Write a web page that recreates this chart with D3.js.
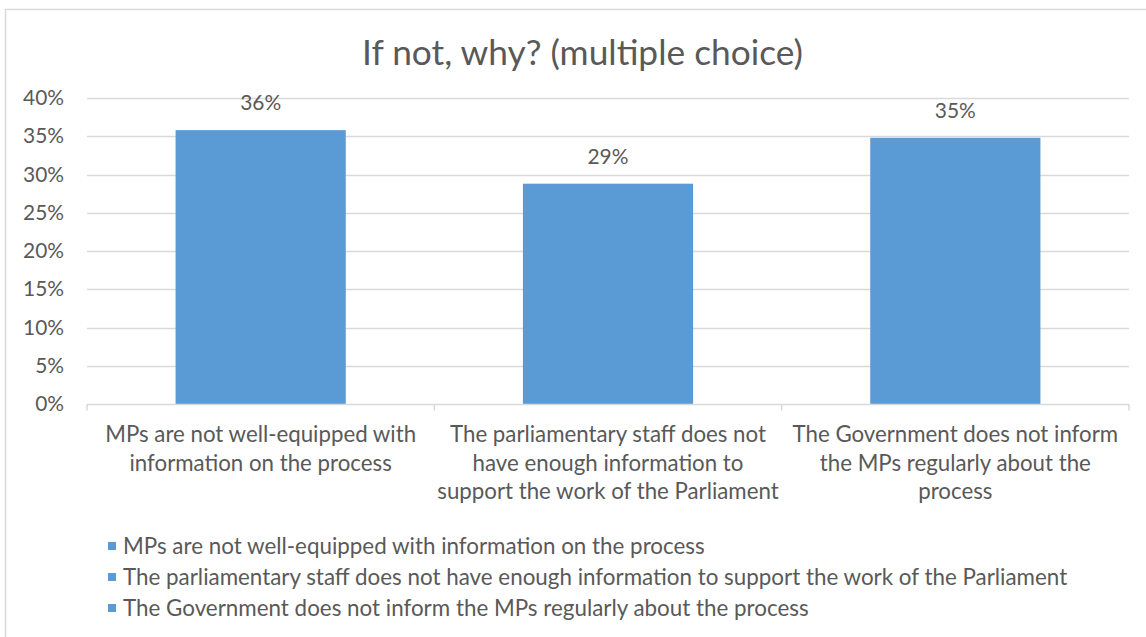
<!DOCTYPE html>
<html>
<head>
<meta charset="utf-8">
<script src="https://cdn.jsdelivr.net/npm/d3@7"></script>
<style>
html,body{margin:0;padding:0;background:#fff;}
svg{display:block;}
text{font-family:Lato,"Open Sans",sans-serif;fill:#595959;}
</style>
</head>
<body>
<svg id="chart" width="1146" height="637"></svg>
<script>
// ---- data ----
const title = "If not, why? (multiple choice)";
const categories = [
  "MPs are not well-equipped with information on the process",
  "The parliamentary staff does not have enough information to support the work of the Parliament",
  "The Government does not inform the MPs regularly about the process"
];
const categoryLines = [
  ["MPs are not well-equipped with", "information on the process"],
  ["The parliamentary staff does not", "have enough information to", "support the work of the Parliament"],
  ["The Government does not inform", "the MPs regularly about the", "process"]
];
const values = [0.358, 0.288, 0.348];
const yTicks = [0, 0.05, 0.10, 0.15, 0.20, 0.25, 0.30, 0.35, 0.40];

// ---- layout ----
const svg = d3.select("#chart");
const W = 1146, H = 637;
const plot = {left: 87, right: 1129, top: 98, bottom: 404};
const barColor = "#5b9bd5";
const textColor = "#595959";
const gridColor = "#d9d9d9";

// fit font size so text reaches a target width
function fitText(sel, targetWidth) {
  sel.attr("font-size", 100);
  const w = sel.node().getComputedTextLength();
  const fs = 100 * targetWidth / w;
  sel.attr("font-size", fs);
  return fs;
}
function measureSize(str, targetWidth) {
  const t = svg.append("text").text(str);
  const fs = fitText(t, targetWidth);
  t.remove();
  return fs;
}

// chart border
svg.append("rect")
  .attr("x", 5.5).attr("y", 9.5)
  .attr("width", W + 10).attr("height", H + 10)
  .attr("fill", "none").attr("stroke", gridColor).attr("stroke-width", 1.5);

const x = d3.scaleBand().domain(categories).range([plot.left, plot.right]).padding(0);
const y = d3.scaleLinear().domain([0, 0.4]).range([plot.bottom, plot.top]);
const barW = x.bandwidth() * 0.49;

// title
const titleSize = measureSize(title, 441);
svg.append("text")
  .attr("x", 582.5).attr("y", 65)
  .attr("text-anchor", "middle")
  .attr("font-size", titleSize)
  .text(title);

// gridlines
svg.append("g").selectAll("line")
  .data(yTicks.filter(d => d > 0))
  .join("line")
  .attr("x1", plot.left).attr("x2", plot.right)
  .attr("y1", d => Math.round(y(d)) + 0.5).attr("y2", d => Math.round(y(d)) + 0.5)
  .attr("stroke", gridColor).attr("stroke-width", 1.5);

// y axis labels
const tickSize = measureSize("40%", 41);
const yAxis = svg.append("g")
  .attr("transform", `translate(${plot.left},0)`)
  .call(d3.axisLeft(y).tickValues(yTicks).tickFormat(d3.format(".0%")).tickSize(0).tickPadding(23));
yAxis.select(".domain").remove();
yAxis.selectAll("text")
  .attr("font-size", tickSize)
  .attr("font-family", "Lato, 'Open Sans', sans-serif")
  .attr("fill", textColor);

// bars
svg.append("g").selectAll("rect")
  .data(categories)
  .join("rect")
  .attr("x", (d) => x(d) + (x.bandwidth() - barW) / 2)
  .attr("y", (d, i) => y(values[i]))
  .attr("width", barW)
  .attr("height", (d, i) => y(0) - y(values[i]))
  .attr("fill", barColor);

// data labels
svg.append("g").selectAll("text")
  .data(categories)
  .join("text")
  .attr("x", d => x(d) + x.bandwidth() / 2)
  .attr("y", (d, i) => y(values[i]) - 20)
  .attr("text-anchor", "middle")
  .attr("font-size", tickSize)
  .text((d, i) => d3.format(".0%")(values[i]));

// x axis
const xAxis = svg.append("g")
  .attr("transform", `translate(0,${plot.bottom + 0.5})`);
xAxis.append("line")
  .attr("x1", plot.left).attr("x2", plot.right)
  .attr("stroke", gridColor).attr("stroke-width", 1.5);
const boundaries = categories.map(c => x(c)).concat([plot.right]);
xAxis.selectAll("line.tick")
  .data(boundaries)
  .join("line")
  .attr("class", "tick")
  .attr("x1", d => d).attr("x2", d => d)
  .attr("y1", 0).attr("y2", 6)
  .attr("stroke", gridColor).attr("stroke-width", 1.5);

// category labels
const catSize = measureSize(categoryLines[0][0], 311);
const catG = svg.append("g");
categories.forEach((c, i) => {
  const t = catG.append("text")
    .attr("x", x(c) + x.bandwidth() / 2)
    .attr("y", 442)
    .attr("text-anchor", "middle")
    .attr("font-size", catSize);
  categoryLines[i].forEach((ln, j) => {
    t.append("tspan")
      .attr("x", x(c) + x.bandwidth() / 2)
      .attr("dy", j === 0 ? 0 : 28.6)
      .text(ln);
  });
});

// legend
const legSize = measureSize(categories[0], 582);
const legend = svg.append("g");
categories.forEach((c, i) => {
  const cy = 546 + i * 31;
  legend.append("rect")
    .attr("x", 108).attr("y", cy - 4)
    .attr("width", 8).attr("height", 8)
    .attr("fill", barColor);
  legend.append("text")
    .attr("x", 123).attr("y", cy)
    .attr("dy", "0.35em")
    .attr("font-size", legSize)
    .text(c);
});
</script>
</body>
</html>
